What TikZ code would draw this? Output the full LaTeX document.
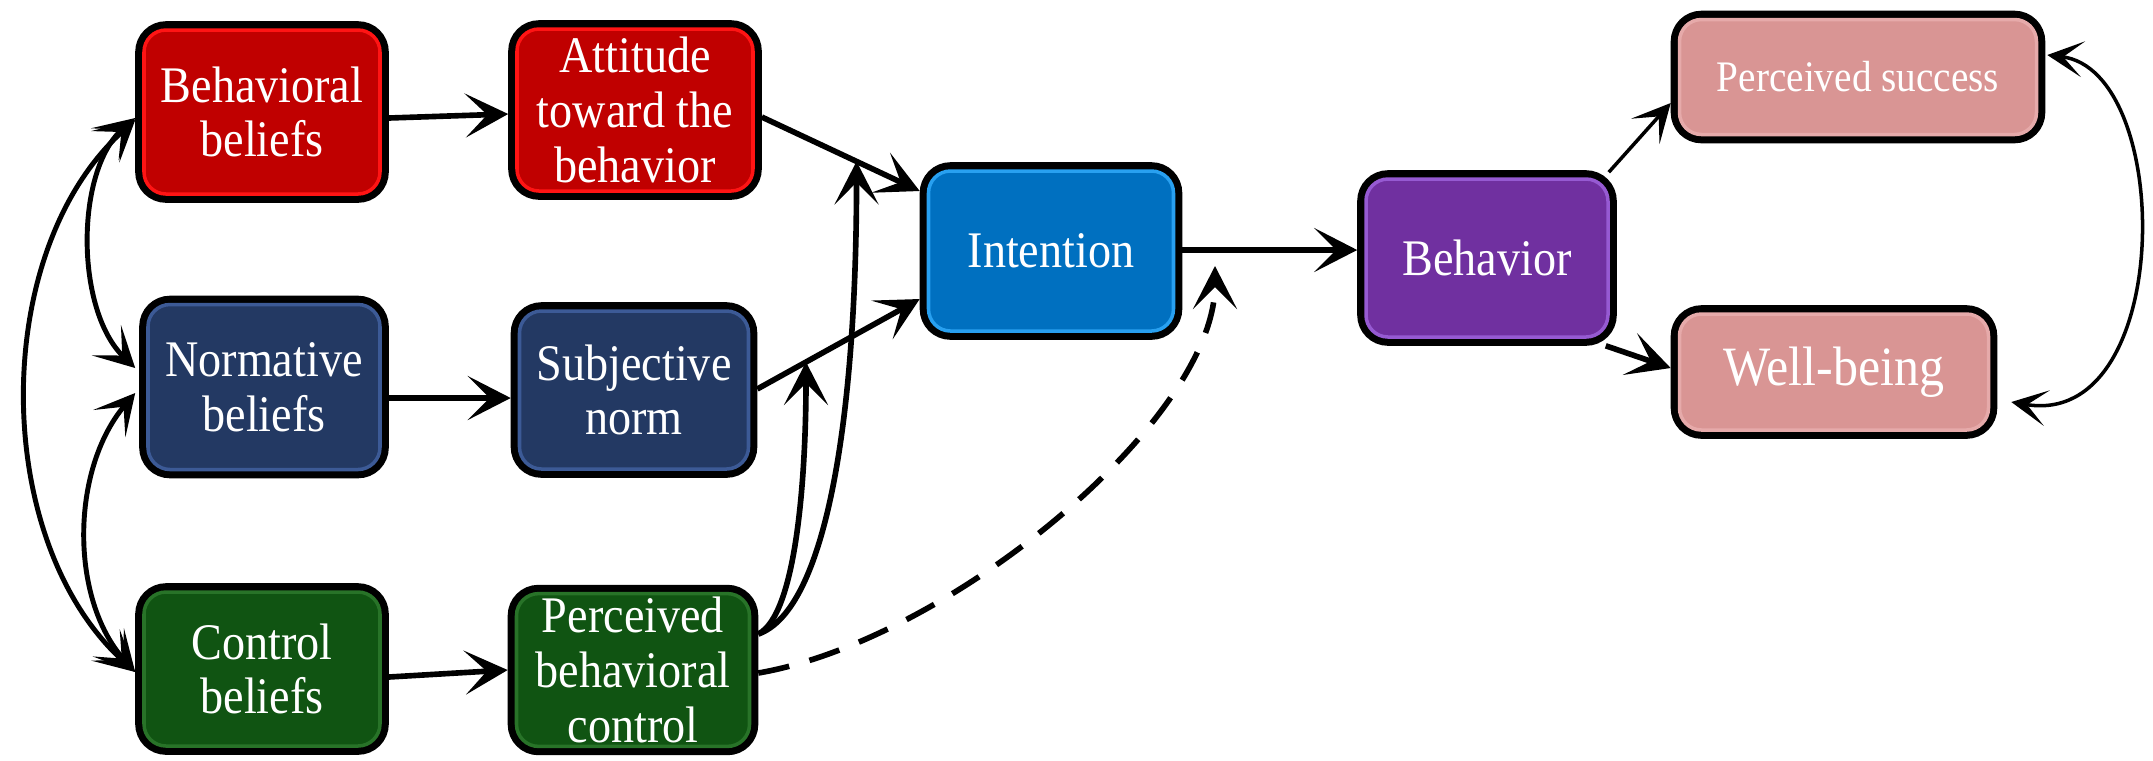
\documentclass[tikz,border=0pt]{standalone}
\usepackage{fontspec}
\setmainfont{Liberation Serif}
\newfontfamily\boxfont[FakeStretch=0.9]{Liberation Serif}
\usetikzlibrary{arrows.meta,calc}
\definecolor{cred}{RGB}{192,0,0}
\definecolor{lred}{RGB}{255,20,20}
\definecolor{cnavy}{RGB}{35,57,99}
\definecolor{lnavy}{RGB}{60,90,150}
\definecolor{cgreen}{RGB}{16,84,18}
\definecolor{lgreen}{RGB}{40,115,40}
\definecolor{cblue}{RGB}{0,112,192}
\definecolor{lblue}{RGB}{40,160,240}
\definecolor{cpurp}{RGB}{112,48,160}
\definecolor{lpurp}{RGB}{150,90,210}
\definecolor{cpink}{RGB}{217,149,148}
\definecolor{lpink}{RGB}{230,170,170}
\begin{document}
\begin{tikzpicture}[x=0.1mm,y=-0.1mm,
  box/.style 2 args={rectangle, rounded corners=2.2mm, fill=#1, draw=#2, line width=1pt,
    preaction={draw=black, line width=5pt}, outer sep=2.5pt, text=white, align=center,
    inner sep=1pt, font=\boxfont\fontsize{14.6}{15.6}\selectfont},
  arr/.style={line width=1.6pt, -{Stealth[length=4.3mm,width=4.4mm,inset=2.2mm]}},
  thinarr/.style={line width=1pt, -{Stealth[length=3.8mm,width=3.8mm,inset=2mm]}},
  dblarr/.style={line width=1.4pt, {Stealth[length=4mm,width=4.2mm,inset=2.2mm]}-{Stealth[length=4mm,width=4.2mm,inset=2.2mm]}},
  thindbl/.style={line width=1pt, {Stealth[length=3.6mm,width=3.6mm,inset=2mm]}-{Stealth[length=3.6mm,width=3.6mm,inset=2mm]}},
  dasharr/.style={line width=1.6pt, dash pattern=on 9pt off 6pt, -{Stealth[length=4.3mm,width=4.4mm,inset=2.2mm]}}
]
\useasboundingbox (0,0) rectangle (2153,760);

\node[box={cred}{lred}, minimum width=2.36cm, minimum height=1.64cm] (bb) at (262,112) {Behavioral\\beliefs};
\node[box={cred}{lred}, minimum width=2.36cm, minimum height=1.62cm] (att) at (635,110) {Attitude\\toward the\\behavior};
\node[box={cnavy}{lnavy}, minimum width=2.32cm, minimum height=1.65cm] (nb) at (264,387) {Normative\\beliefs};
\node[box={cnavy}{lnavy}, minimum width=2.29cm, minimum height=1.58cm] (subj) at (634,390) {Subjective\\norm};
\node[box={cgreen}{lgreen}, minimum width=2.36cm, minimum height=1.54cm] (cb) at (262,669) {Control\\beliefs};
\node[box={cgreen}{lgreen}, minimum width=2.33cm, minimum height=1.52cm] (pbc) at (633,670) {Perceived\\behavioral\\control};
\node[box={cblue}{lblue}, minimum width=2.45cm, minimum height=1.60cm] (int) at (1051,251) {Intention};
\node[box={cpurp}{lpurp}, minimum width=2.42cm, minimum height=1.58cm] (beh) at (1487,258) {Behavior};
\node[box={cpink}{lpink}, minimum width=3.57cm, minimum height=1.15cm, font=\boxfont\fontsize{12.4}{13}\selectfont] (ps) at (1858,77) {Perceived success};
\node[box={cpink}{lpink}, minimum width=3.09cm, minimum height=1.16cm, font=\boxfont\fontsize{15.8}{17}\selectfont] (wb) at (1834,372) {Well-being};

% row arrows
\draw[arr] ($(bb.east)+(0,6)$) -- ($(att.west)+(0,4)$);
\draw[arr] ($(nb.east)+(0,11)$) -- ($(subj.west)+(0,8)$);
\draw[arr] ($(cb.east)+(0,8)$) -- ($(pbc.west)+(0,0)$);

% to intention
\coordinate (as) at ($(att.east)+(0,7)$);
\coordinate (ae) at ($(int.west)+(0,-60)$);
\coordinate (ss) at ($(subj.east)+(0,-1)$);
\coordinate (se) at ($(int.west)+(0,48)$);
\draw[arr] (as) -- (ae);
\draw[arr] (ss) -- (se);
\path (as) -- (ae) coordinate[pos=0.6] (m2);
\path (ss) -- (se) coordinate[pos=0.3] (m1);

% PBC curves
\coordinate (ps0) at ($(pbc.east)+(0,-36)$);
\draw[arr] (ps0) .. controls ($(ps0)+(38,-19)$) and ($(m1)+(0,115)$) .. (m1);
\draw[arr] (ps0) .. controls ($(ps0)+(68,-24)$) and ($(m2)+(0,255)$) .. (m2);

% dashed
\coordinate (dtip) at (1215,266);
\draw[dasharr] ($(pbc.east)+(0,3)$) .. controls (950,640) and (1215,420) .. (dtip);

% intention -> behavior
\draw[arr] ($(int.east)+(0,-1)$) -- ($(beh.west)+(0,-8)$);

% behavior -> outcomes
\draw[thinarr] ($(beh.north east)+(-8,2)$) -- ($(ps.west)+(0,26)$);
\draw[arr] ($(beh.south east)+(-11,0)$) -- ($(wb.west)+(0,-4)$);

% outcomes double arrow
\draw[thindbl] ($(ps.east)+(2,-22)$) .. controls (2175,70) and (2175,430) .. ($(wb.east)+(14,30)$);

% left double arrows
\draw[dblarr] ($(bb.west)+(0,6)$) .. controls (75,170) and (75,310) .. ($(nb.west)+(-4,-19)$);
\draw[dblarr] ($(bb.west)+(0,8)$) .. controls (-10,250) and (-10,540) .. ($(cb.west)+(0,3)$);
\draw[dblarr] ($(nb.west)+(-4,6)$) .. controls (70,470) and (70,600) .. ($(cb.west)+(0,3)$);
\end{tikzpicture}
\end{document}
